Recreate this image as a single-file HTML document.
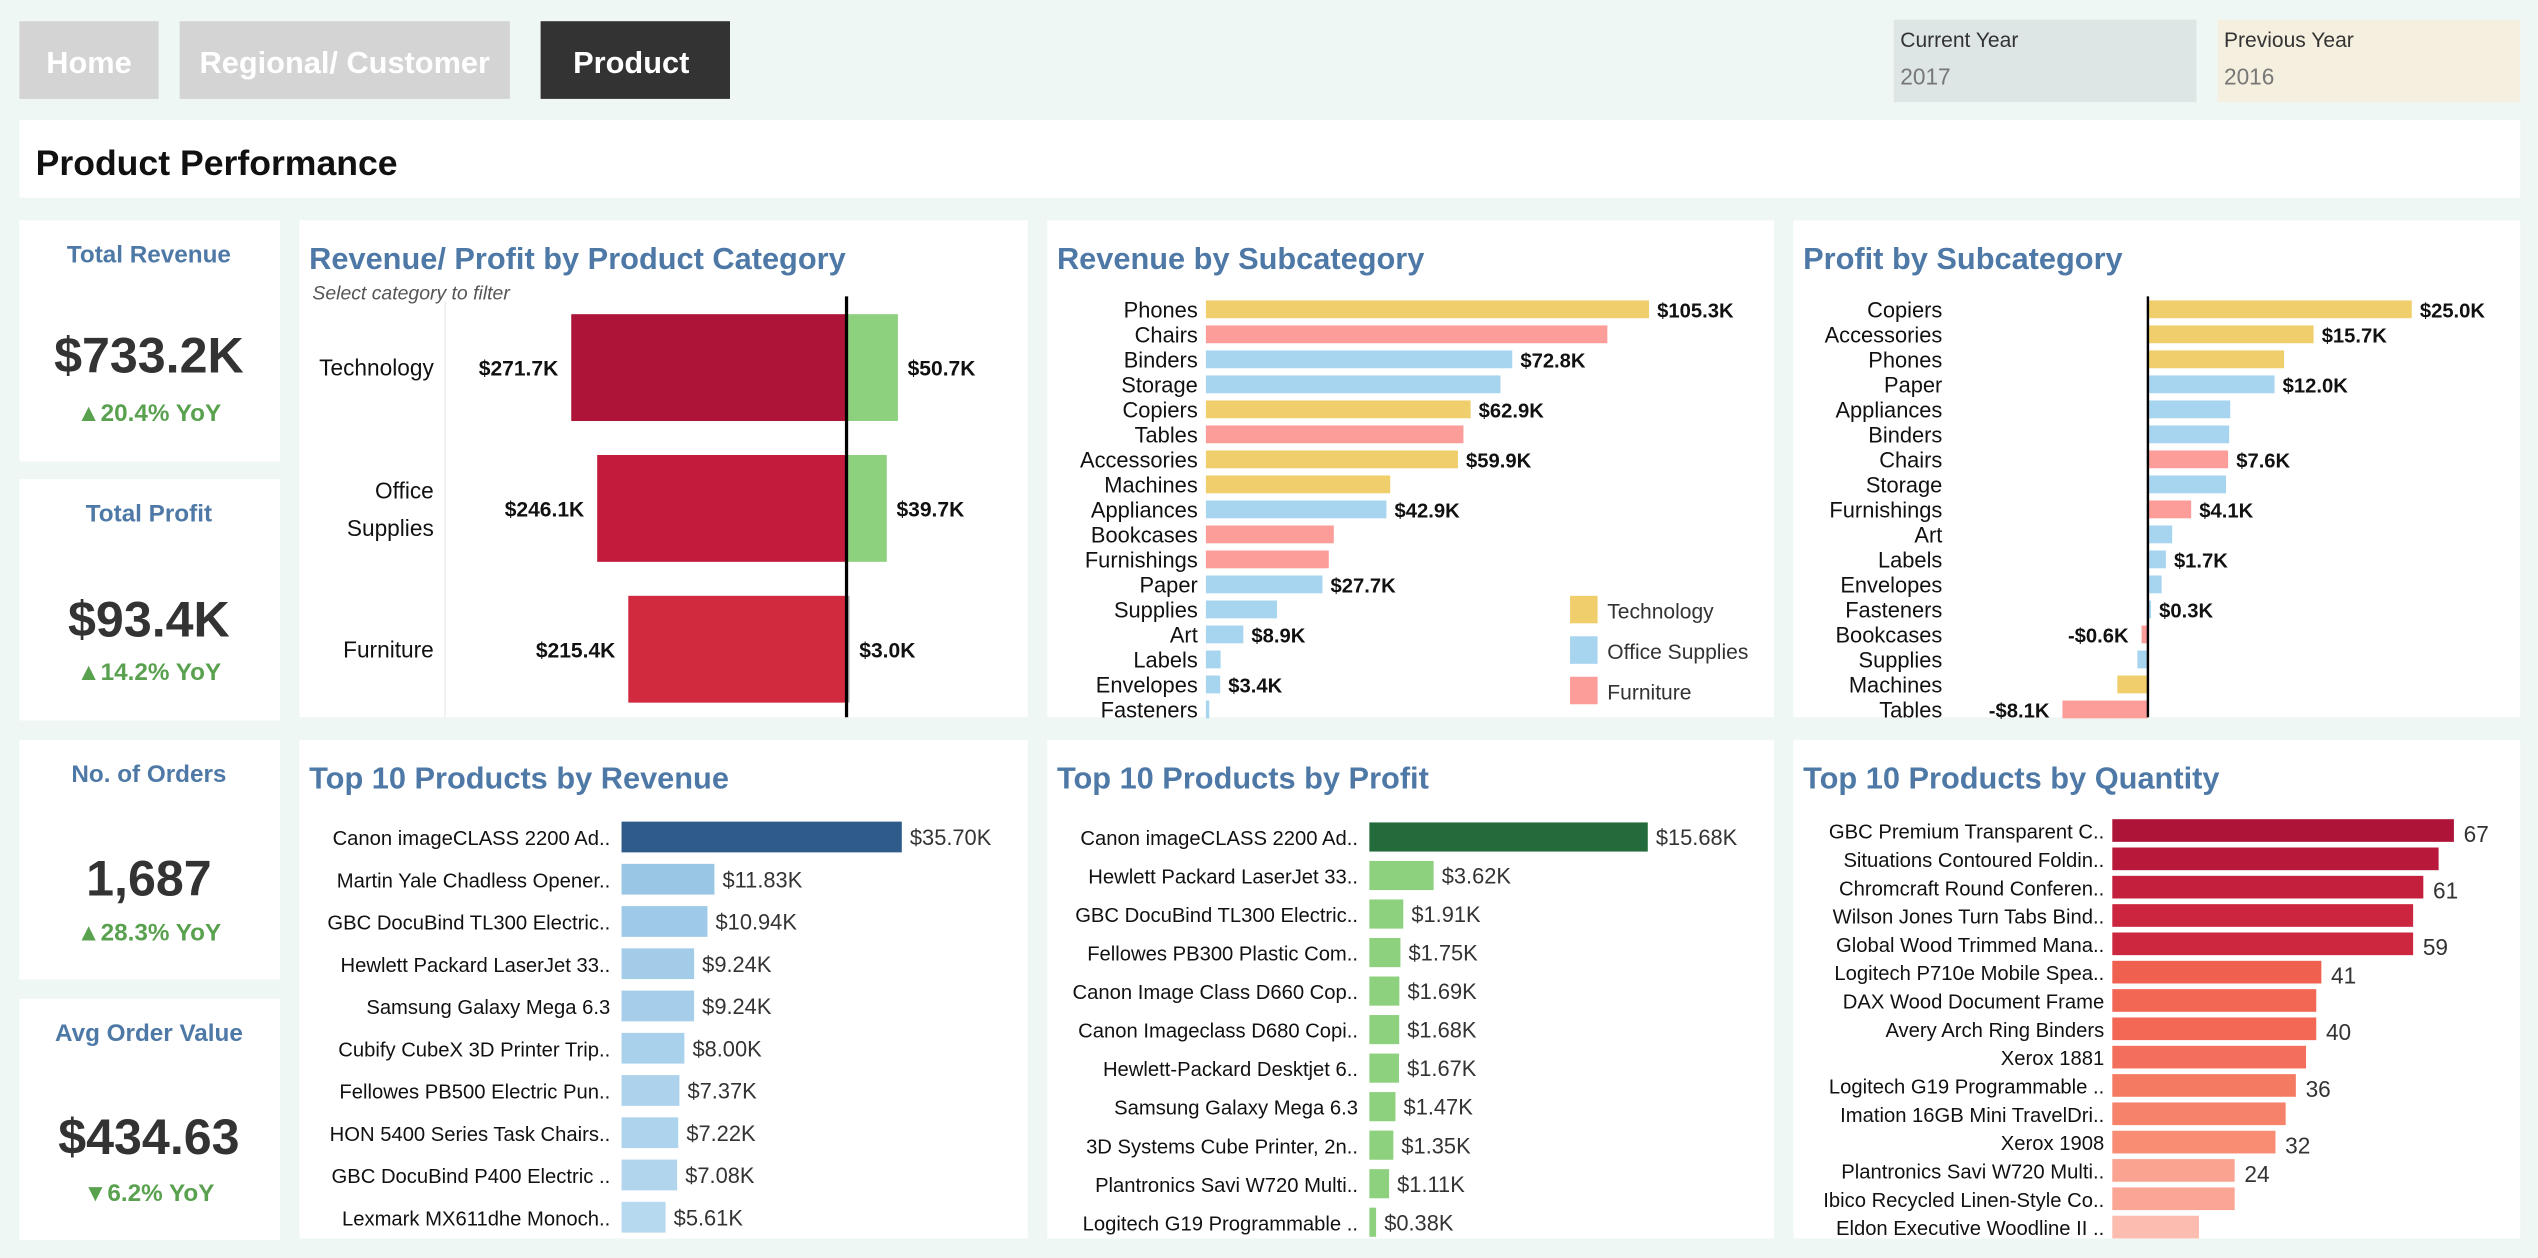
<!DOCTYPE html>
<html><head><meta charset="utf-8"><style>
html,body{margin:0;padding:0;background:#eff7f5;}
svg{display:block;font-family:"Liberation Sans",sans-serif;}
</style></head><body>
<svg id="chart" width="2538" height="1258" viewBox="0 0 1568 777" xmlns="http://www.w3.org/2000/svg">
<rect x="0" y="0" width="1568" height="777" fill="#eff7f5"/>
<g><rect x="12" y="13" width="86" height="48" fill="#d4d4d4"/><text x="55" y="45" text-anchor="middle" fill="#fff" font-size="19" font-weight="bold">Home</text></g>
<g><rect x="111" y="13" width="204" height="48" fill="#d4d4d4"/><text x="213" y="45" text-anchor="middle" fill="#fff" font-size="19" font-weight="bold">Regional/ Customer</text></g>
<g><rect x="334" y="13" width="117" height="48" fill="#333"/><text x="390" y="45" text-anchor="middle" fill="#fff" font-size="19" font-weight="bold">Product</text></g>
<g><rect x="1170" y="12" width="187" height="51" fill="#dde5e5"/><text x="1174" y="29" font-size="13" fill="#333">Current Year</text><text x="1174" y="52" font-size="14" fill="#777">2017</text></g>
<g><rect x="1370" y="12" width="187" height="51" fill="#f5efdf"/><text x="1374" y="29" font-size="13" fill="#333">Previous Year</text><text x="1374" y="52" font-size="14" fill="#777">2016</text></g>
<rect x="12" y="74" width="1545" height="48" fill="#fff"/>
<text x="22" y="108" font-size="22" font-weight="bold" fill="#111">Product Performance</text>

<g><rect x="12" y="136" width="161" height="149" fill="#fff"/><text x="92" y="162" text-anchor="middle" font-size="15" font-weight="bold" fill="#4e79a7">Total Revenue</text><text x="92" y="230" text-anchor="middle" font-size="31" font-weight="bold" fill="#333">$733.2K</text><text x="92" y="260" text-anchor="middle" font-size="15" font-weight="bold" fill="#59a14f">▲20.4% YoY</text></g>
<g><rect x="12" y="296" width="161" height="149" fill="#fff"/><text x="92" y="322" text-anchor="middle" font-size="15" font-weight="bold" fill="#4e79a7">Total Profit</text><text x="92" y="393" text-anchor="middle" font-size="31" font-weight="bold" fill="#333">$93.4K</text><text x="92" y="420" text-anchor="middle" font-size="15" font-weight="bold" fill="#59a14f">▲14.2% YoY</text></g>
<g><rect x="12" y="457" width="161" height="148" fill="#fff"/><text x="92" y="483" text-anchor="middle" font-size="15" font-weight="bold" fill="#4e79a7">No. of Orders</text><text x="92" y="553" text-anchor="middle" font-size="31" font-weight="bold" fill="#333">1,687</text><text x="92" y="581" text-anchor="middle" font-size="15" font-weight="bold" fill="#59a14f">▲28.3% YoY</text></g>
<g><rect x="12" y="617" width="161" height="149" fill="#fff"/><text x="92" y="643" text-anchor="middle" font-size="15" font-weight="bold" fill="#4e79a7">Avg Order Value</text><text x="92" y="713" text-anchor="middle" font-size="31" font-weight="bold" fill="#333">$434.63</text><text x="92" y="742" text-anchor="middle" font-size="15" font-weight="bold" fill="#59a14f">▼6.2% YoY</text></g>

<rect x="185" y="136" width="450" height="307" fill="#fff"/>
<rect x="647" y="136" width="449" height="307" fill="#fff"/>
<rect x="1108" y="136" width="449" height="307" fill="#fff"/>
<rect x="185" y="457" width="450" height="308" fill="#fff"/>
<rect x="647" y="457" width="449" height="308" fill="#fff"/>
<rect x="1108" y="457" width="449" height="308" fill="#fff"/>

<text x="191" y="166" font-size="19" font-weight="bold" fill="#4e79a7">Revenue/ Profit by Product Category</text>
<text x="193" y="185" font-size="12" font-style="italic" fill="#555">Select category to filter</text>
<text x="653" y="166" font-size="19" font-weight="bold" fill="#4e79a7">Revenue by Subcategory</text>
<text x="1114" y="166" font-size="19" font-weight="bold" fill="#4e79a7">Profit by Subcategory</text>
<text x="191" y="487" font-size="19" font-weight="bold" fill="#4e79a7">Top 10 Products by Revenue</text>
<text x="653" y="487" font-size="19" font-weight="bold" fill="#4e79a7">Top 10 Products by Profit</text>
<text x="1114" y="487" font-size="19" font-weight="bold" fill="#4e79a7">Top 10 Products by Quantity</text>
<line x1="275" y1="186" x2="275" y2="443" stroke="#eee"/>

<g>
<rect x="970" y="368" width="17" height="17" fill="#f0ce6b"/><text x="993" y="382" font-size="13" fill="#333">Technology</text>
<rect x="970" y="393" width="17" height="17" fill="#a7d4ee"/><text x="993" y="407" font-size="13" fill="#333">Office Supplies</text>
<rect x="970" y="418" width="17" height="17" fill="#fc9d9a"/><text x="993" y="432" font-size="13" fill="#333">Furniture</text>
</g>
</svg>
<script>
const categories=['Technology','Office Supplies','Furniture'];
const catRevenue=[271.7,246.1,215.4];
const catProfit=[50.7,39.7,3.0];

const revSubcats=['Phones','Chairs','Binders','Storage','Copiers','Tables','Accessories','Machines','Appliances','Bookcases','Furnishings','Paper','Supplies','Art','Labels','Envelopes','Fasteners'];
const revSubGroup=['T','F','O','O','T','F','T','T','O','F','F','O','O','O','O','O','O'];
const revSubValues=[105.3,95.4,72.8,70.0,62.9,61.2,59.9,43.8,42.9,30.4,29.2,27.7,16.9,8.9,3.5,3.4,0.8];
const revSubLabels=['$105.3K','','$72.8K','','$62.9K','','$59.9K','','$42.9K','','','$27.7K','','$8.9K','','$3.4K',''];

const profSubcats=['Copiers','Accessories','Phones','Paper','Appliances','Binders','Chairs','Storage','Furnishings','Art','Labels','Envelopes','Fasteners','Bookcases','Supplies','Machines','Tables'];
const profSubGroup=['T','T','T','O','O','O','F','O','F','O','O','O','O','F','O','T','F'];
const profSubValues=[25.0,15.7,12.9,12.0,7.8,7.7,7.6,7.4,4.1,2.3,1.7,1.3,0.3,-0.6,-1.0,-2.9,-8.1];
const profSubLabels=['$25.0K','$15.7K','','$12.0K','','','$7.6K','','$4.1K','','$1.7K','','$0.3K','-$0.6K','','','-$8.1K'];

const topRevProducts=['Canon imageCLASS 2200 Ad..','Martin Yale Chadless Opener..','GBC DocuBind TL300 Electric..','Hewlett Packard LaserJet 33..','Samsung Galaxy Mega 6.3','Cubify CubeX 3D Printer Trip..','Fellowes PB500 Electric Pun..','HON 5400 Series Task Chairs..','GBC DocuBind P400 Electric ..','Lexmark MX611dhe Monoch..'];
const topRevValues=[35.70,11.83,10.94,9.24,9.24,8.00,7.37,7.22,7.08,5.61];

const topProfProducts=['Canon imageCLASS 2200 Ad..','Hewlett Packard LaserJet 33..','GBC DocuBind TL300 Electric..','Fellowes PB300 Plastic Com..','Canon Image Class D660 Cop..','Canon Imageclass D680 Copi..','Hewlett-Packard Desktjet 6..','Samsung Galaxy Mega 6.3','3D Systems Cube Printer, 2n..','Plantronics Savi W720 Multi..','Logitech G19 Programmable ..'];
const topProfValues=[15.68,3.62,1.91,1.75,1.69,1.68,1.67,1.47,1.35,1.11,0.38];

const topQtyProducts=['GBC Premium Transparent C..','Situations Contoured Foldin..','Chromcraft Round Conferen..','Wilson Jones Turn Tabs Bind..','Global Wood Trimmed Mana..','Logitech P710e Mobile Spea..','DAX Wood Document Frame','Avery Arch Ring Binders','Xerox 1881','Logitech G19 Programmable ..','Imation 16GB Mini TravelDri..','Xerox 1908','Plantronics Savi W720 Multi..','Ibico Recycled Linen-Style Co..','Eldon Executive Woodline II ..'];
const topQtyValues=[67,64,61,59,59,41,40,40,38,36,34,32,24,24,17];
const topQtyLabels=['67','','61','','59','41','','40','','36','','32','24','',''];

const NS='http://www.w3.org/2000/svg';
const svg=document.getElementById('chart');
const groupColor={T:'#f0ce6b',O:'#a7d4ee',F:'#fc9d9a'};
function mk(tag,attrs){const e=document.createElementNS(NS,tag);for(const k in attrs)e.setAttribute(k,attrs[k]);svg.appendChild(e);return e;}
function tx(x,y,s,attrs){const e=mk('text',Object.assign({x:x,y:y},attrs||{}));e.textContent=s;return e;}

// Panel 1
const catZero=523, catK=0.626;
const catX=v=>catZero+v*catK;
const catY=i=>227+i*87;
const catColors=['#ad1437','#c21b3c','#d12a3f'];
categories.forEach((c,i)=>{
  const yc=catY(i);
  let r=mk('rect',{x:catX(-catRevenue[i]),y:yc-33,width:catRevenue[i]*catK,height:66,fill:catColors[i]});
  
  
  let p=mk('rect',{x:catZero,y:yc-33,width:catProfit[i]*catK,height:66,fill:i==2?'#b0b0b0':'#8dd17e'});
  
  
  let lr=tx(catX(-catRevenue[i])-8,yc+5,'$'+catRevenue[i].toFixed(1)+'K',{'text-anchor':'end','font-size':13,'font-weight':'bold',fill:'#111'});
  
  
  let lp=tx(catX(catProfit[i])+6,yc+5,'$'+catProfit[i].toFixed(1)+'K',{'font-size':13,'font-weight':'bold',fill:'#111'});
  
  
  const parts=c==='Office Supplies'?['Office','Supplies']:[c];
  parts.forEach((s,j)=>{
    let t=tx(268,yc+5+(parts.length>1?(j==0?-11:12):0),s,{'text-anchor':'end','font-size':14,fill:'#111'});
    
    
  });
});
let zl=mk('line',{x1:catZero,y1:183,x2:catZero,y2:443,stroke:'#000','stroke-width':2});



// Panel 2
const rsX=v=>745+v*2.6;
const rsY=i=>191+i*15.45;
revSubcats.forEach((c,i)=>{
  const yc=rsY(i);
  let b=mk('rect',{x:745,y:yc-5.5,width:rsX(revSubValues[i])-745,height:11,fill:groupColor[revSubGroup[i]]});
  
  
  let t=tx(740,yc+5,c,{'text-anchor':'end','font-size':13.5,fill:'#111'});
  
  
  if(revSubLabels[i]){let l=tx(rsX(revSubValues[i])+5,yc+5,revSubLabels[i],{'font-size':12.5,'font-weight':'bold',fill:'#111'});
  
  }
});

// Panel 3
const psZero=1327, psK=6.52;
const psX=v=>psZero+v*psK;
const psY=i=>191+i*15.45;
profSubcats.forEach((c,i)=>{
  const yc=psY(i), v=profSubValues[i];
  let b=mk('rect',{x:Math.min(psX(v),psZero),y:yc-5.5,width:Math.abs(v)*psK,height:11,fill:groupColor[profSubGroup[i]]});
  
  
  let t=tx(1200,yc+5,c,{'text-anchor':'end','font-size':13.5,fill:'#111'});
  
  
  if(profSubLabels[i]){
    let l=v>=0?tx(psX(v)+5,yc+5,profSubLabels[i],{'font-size':12.5,'font-weight':'bold',fill:'#111'}):tx(psX(v)-8,yc+5,profSubLabels[i],{'text-anchor':'end','font-size':12.5,'font-weight':'bold',fill:'#111'});
    
    
  }
});
let zl2=mk('line',{x1:psZero,y1:183,x2:psZero,y2:443,stroke:'#000','stroke-width':1.5});



// Bottom 1
const trX=v=>384+v*4.85;
const trY=i=>517+i*26.1;
const trCols=['#2e5b8a','#9ac6e6','#9fc9e8','#a3cce9','#a6ceea','#aad1eb','#acd2ec','#aed3ec','#b0d5ed','#b6d9ef'];
topRevProducts.forEach((p,i)=>{
  const yc=trY(i);
  let b=mk('rect',{x:384,y:yc-9.5,width:trX(topRevValues[i])-384,height:19,fill:trCols[i]});
  
  
  let t=tx(377,yc+5,p,{'text-anchor':'end','font-size':12.5,fill:'#111'});
  
  
  let l=tx(trX(topRevValues[i])+5,yc+5,'$'+topRevValues[i].toFixed(2)+'K',{'font-size':13.5,fill:'#333'});
  
  
});

// Bottom 2
const tpX=v=>846+v*10.97;
const tpY=i=>517+i*23.8;
topProfProducts.forEach((p,i)=>{
  const yc=tpY(i);
  let b=mk('rect',{x:846,y:yc-9,width:Math.max(tpX(topProfValues[i])-846,2),height:18,fill:i==0?'#236b3a':'#8dd17e'});
  
  
  let t=tx(839,yc+5,p,{'text-anchor':'end','font-size':12.5,fill:'#111'});
  
  
  let l=tx(tpX(topProfValues[i])+5,yc+5,'$'+topProfValues[i].toFixed(2)+'K',{'font-size':13.5,fill:'#333'});
  
  
});

// Bottom 3
const tqX=v=>1305+v*3.15;
const tqY=i=>513+i*17.5;
const tqCols=['#ad1437','#b8193b','#c41f3d','#cb253f','#cd2740','#f0604f','#f26654','#f26855','#f46f5b','#f57a62','#f6826a','#f88d74','#fba391','#fba594','#fcbdb0'];
topQtyProducts.forEach((p,i)=>{
  const yc=tqY(i);
  let b=mk('rect',{x:1305,y:yc-7,width:tqX(topQtyValues[i])-1305,height:14,fill:tqCols[i]});
  
  
  let t=tx(1300,yc+5,p,{'text-anchor':'end','font-size':12.5,fill:'#111'});
  
  
  if(topQtyLabels[i]){let l=tx(tqX(topQtyValues[i])+6,yc+7,topQtyLabels[i],{'font-size':14,fill:'#333'});
  
  }
});
</script>
</body></html>
